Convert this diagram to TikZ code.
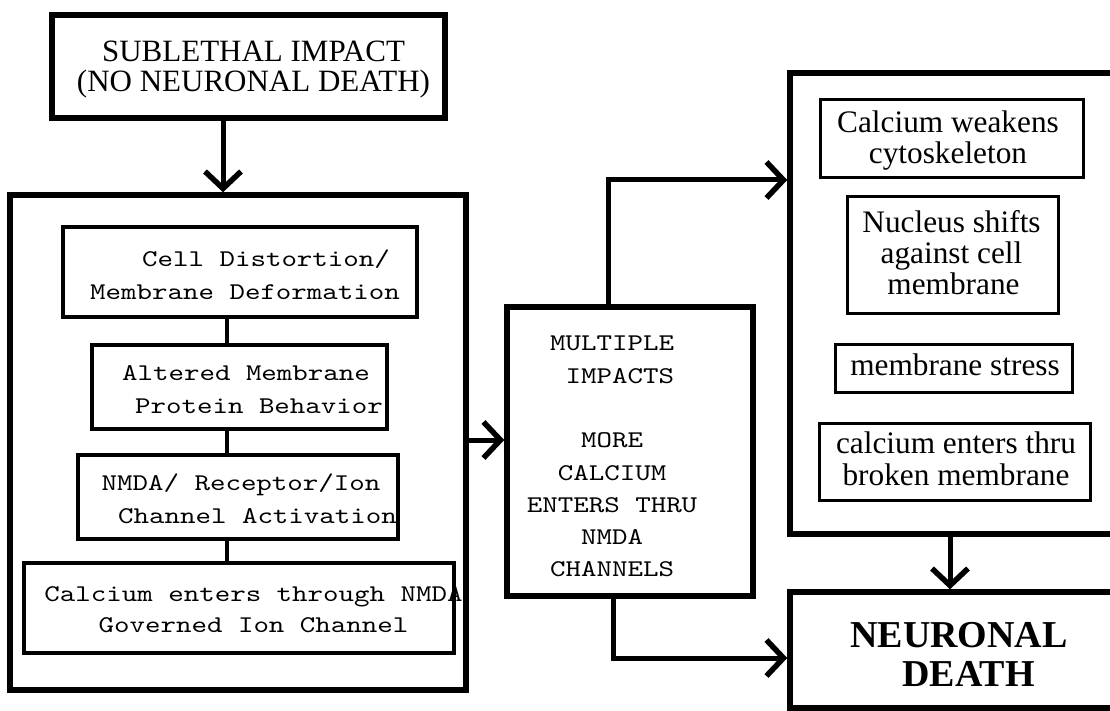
\documentclass[tikz,border=0pt]{standalone}
\usepackage{fontspec}
\setmainfont{Liberation Serif}
\newfontfamily\courf[FakeStretch=1.23]{lmmono10-regular.otf}
\usetikzlibrary{arrows.meta}
\tikzset{
  obox/.style={draw, line width=5.5pt, inner sep=0pt},
  ibox/.style={draw, line width=3.3pt, inner sep=0pt},
  rbox/.style={draw, line width=3pt, inner sep=0pt},
  ttxt/.style={inner sep=0pt, align=center, font={\courf\fontsize{24pt}{32.5pt}\selectfont}},
  stxt/.style={inner sep=0pt, align=center, font={\fontsize{31.3pt}{31pt}\selectfont}},
  arr/.style={line width=5pt, -{Straight Barb[length=17pt,width=36pt,line width=5.5pt]}},
  conn/.style={line width=3.3pt},
}
\begin{document}
\begin{tikzpicture}[x=1pt,y=-1pt]
\useasboundingbox (0,0) rectangle (1110,711);
\clip (0,0) rectangle (1110,711);
\fill[white] (0,0) rectangle (1110,711);

% top box
\node[obox, minimum width=393pt, minimum height=103pt] (top) at (248.5,66.5) {};
\node[inner sep=0pt, align=center, font={\fontsize{31pt}{30pt}\selectfont}] (topt) at (253.5,69.6)
  {SUBLETHAL IMPACT\\(NO NEURONAL DEATH)};

% left big box
\node[obox, minimum width=456pt, minimum height=495pt] (left) at (238,442.5) {};
\node[ibox, minimum width=354pt, minimum height=90pt] (cell) at (240,272) {};
\node[ttxt] (cellt) at (245,274.5) {\hspace*{42pt}Cell Distortion/\\Membrane Deformation};
\node[ibox, minimum width=295pt, minimum height=84pt] (alt) at (239.5,387) {};
\node[ttxt] (altt) at (246,389.7) {Altered Membrane\\\hspace*{26pt}Protein Behavior};
\node[ibox, minimum width=320pt, minimum height=84pt] (nmda) at (238,497) {};
\node[ttxt] (nmdat) at (241,499) {NMDA/ Receptor/Ion\\\hspace*{33pt}Channel Activation};
\node[ibox, minimum width=430pt, minimum height=90pt] (calc) at (239,608) {};
\node[ttxt, font={\courf\fontsize{24pt}{31pt}\selectfont}] (calct) at (253.5,610) {Calcium enters through NMDA\\Governed Ion Channel};

% middle box
\node[obox, minimum width=246pt, minimum height=289pt] (mid) at (630,451.5) {};
\node[ttxt, font={\courf\fontsize{24pt}{32.3pt}\selectfont}] (midt) at (612,456.7)
  {MULTIPLE\\\hspace*{15.5pt}IMPACTS\\[32.3pt]MORE\\CALCIUM\\ENTERS THRU\\NMDA\\CHANNELS};

% right big box
\node[obox, minimum width=335pt, minimum height=461pt] (right) at (957.5,303.5) {};
\node[rbox, minimum width=263pt, minimum height=78pt] (cw) at (951.5,139) {};
\node[stxt] (cwt) at (948,140.2) {Calcium weakens\\cytoskeleton};
\node[rbox, minimum width=211pt, minimum height=116pt] (nuc) at (952.5,255) {};
\node[stxt] (nuct) at (951.5,252.3) {Nucleus shifts\\against cell\\\hspace*{4pt}membrane};
\node[rbox, minimum width=237pt, minimum height=48pt] (ms) at (953.5,368) {};
\node[stxt] (mst) at (955,364.3) {membrane stress};
\node[rbox, minimum width=271pt, minimum height=77pt] (ce) at (954.5,461.5) {};
\node[stxt, font={\fontsize{31.3pt}{32pt}\selectfont}] (cet) at (956,458.3) {calcium enters thru\\broken membrane};

% neuronal death
\node[obox, minimum width=335pt, minimum height=116pt] (nd) at (957.5,650) {};
\node[inner sep=0pt, align=center, font={\bfseries\fontsize{38pt}{39pt}\selectfont}] (ndt) at (959,654.7)
  {NEURONAL\\\hspace*{19pt}DEATH};

% helper coordinates
\coordinate (ax) at (223,0);
\coordinate (ay) at (0,440);
\coordinate (u1) at (608,180);
\coordinate (l1) at (613,658);
\coordinate (dx) at (950,0);
\coordinate (cx) at (227,0);

% connectors
\draw[arr] (top.south -| ax) -- (left.north -| ax);
\draw[arr] (left.east |- ay) -- (mid.west |- ay);
\draw[arr] (mid.north -| u1) |- (right.west |- u1);
\draw[arr] (mid.south -| l1) |- (nd.west |- l1);
\draw[arr] (right.south -| dx) -- (nd.north -| dx);
\draw[conn] (cell.south -| cx) -- (alt.north -| cx);
\draw[conn] (alt.south -| cx) -- (nmda.north -| cx);
\draw[conn] (nmda.south -| cx) -- (calc.north -| cx);
\end{tikzpicture}
\end{document}
